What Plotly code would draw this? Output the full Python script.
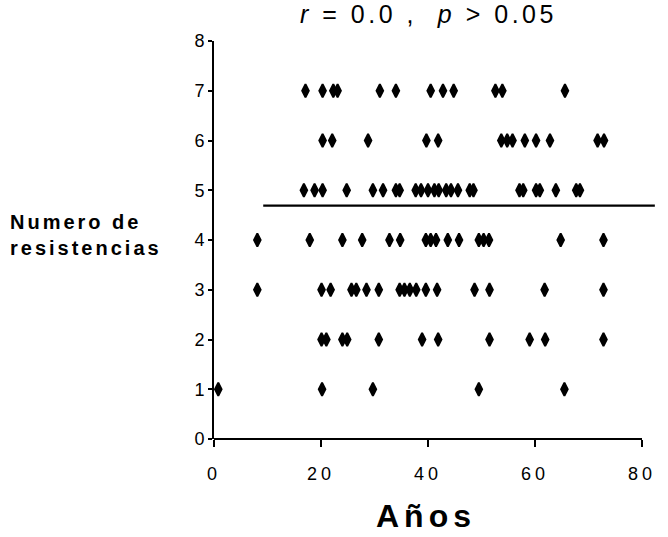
import plotly.graph_objects as go

# ---- data (ages in years, grouped by number of resistances) ----
res_levels = [7, 6, 5, 4, 3, 2, 1]
ages_7 = [17.1, 20.3, 22.3, 23.1, 31.0, 34.0, 40.5, 42.8, 44.8, 52.6, 53.9, 65.6]
ages_6 = [20.3, 22.1, 28.8, 39.7, 41.9, 53.7, 54.8, 55.8, 58.1, 60.2, 62.8, 71.7, 72.9]
ages_5 = [16.8, 18.8, 20.3, 24.8, 29.7, 31.6, 34.0, 34.7, 37.7, 38.7, 40.0, 41.2, 42.0,
          43.4, 44.3, 45.6, 47.8, 48.5, 57.1, 57.8, 60.2, 60.9, 63.9, 67.7, 68.4]
ages_4 = [8.1, 17.9, 24.0, 27.7, 32.8, 34.8, 39.6, 40.5, 41.5, 43.7, 45.8, 49.5, 50.4,
          51.4, 64.8, 72.8]
ages_3 = [8.1, 20.1, 21.8, 25.7, 26.6, 28.5, 30.8, 34.7, 35.6, 36.6, 37.8, 39.6, 41.7,
          48.7, 51.5, 61.8, 72.8]
ages_2 = [20.1, 21.0, 24.0, 24.9, 30.8, 38.9, 41.9, 51.5, 59.0, 61.9, 72.8]
ages_1 = [0.8, 20.2, 29.7, 49.5, 65.5]

# regression (flat) line
fit_x = [9.2, 82.4]
fit_y = [4.69, 4.69]

x_ticks = [0, 20, 40, 60, 80]
y_ticks = [0, 1, 2, 3, 4, 5, 6, 7, 8]

groups = [ages_7, ages_6, ages_5, ages_4, ages_3, ages_2, ages_1]
xs, ys = [], []
for lvl, ages in zip(res_levels, groups):
    xs += ages
    ys += [lvl] * len(ages)

# ---- layout geometry ----
W, H = 668, 537
ML, MR, MT, MB = 214, 12, 41, 98
PW, PH = W - ML - MR, H - MT - MB
X_MAX = 80 * PW / 428.0


def pxx(px):
    return (px - ML) / PW


def pxy(py):
    return (H - MB - py) / PH


FONT = "Liberation Sans, Arial, sans-serif"

fig = go.Figure()
fig.add_trace(go.Scatter(
    x=fit_x, y=fit_y, mode="lines",
    line=dict(color="black", width=2.3), hoverinfo="skip", showlegend=False))
fig.add_trace(go.Scatter(
    x=xs, y=ys, mode="markers",
    marker=dict(symbol="diamond-tall", size=9.5, color="black",
                line=dict(color="black", width=1.9)),
    cliponaxis=False, showlegend=False))

fig.update_layout(
    width=W, height=H,
    margin=dict(l=ML, r=MR, t=MT, b=MB),
    paper_bgcolor="white", plot_bgcolor="white",
    font=dict(family=FONT, color="black"),
    xaxis=dict(range=[0, X_MAX], tickvals=x_ticks,
               ticktext=['<span style="letter-spacing:4px">%d</span>' % v for v in x_ticks],
               showgrid=False, zeroline=False, showline=False,
               ticks="outside", ticklen=7, tickwidth=1.6, tickcolor="black",
               ticklabelstandoff=11,
               tickfont=dict(size=18, family=FONT, color="black")),
    yaxis=dict(range=[0, 8], tickvals=y_ticks,
               showgrid=False, zeroline=False, showline=True,
               linecolor="black", linewidth=1.8,
               ticks="outside", ticklen=4, tickwidth=1.6, tickcolor="black",
               ticklabelstandoff=0,
               tickfont=dict(size=18, family=FONT, color="black")),
    shapes=[dict(type="line", xref="x", yref="paper", x0=0, x1=80, y0=0, y1=0,
                 line=dict(color="black", width=1.8), layer="above")],
    annotations=[
        dict(text='<span style="letter-spacing:3.5px"><i>r</i> = 0.0 ,  <i>p</i> > 0.05</span>',
             xref="paper", yref="paper", x=pxx(428), y=pxy(14),
             xanchor="center", yanchor="middle", showarrow=False,
             font=dict(size=25, family=FONT, color="black")),
        dict(text='<span style="letter-spacing:3px"><b>Numero de<br>resistencias</b></span>',
             xref="paper", yref="paper", x=pxx(8), y=pxy(235),
             xanchor="left", yanchor="middle", align="left", showarrow=False,
             font=dict(size=20, family=FONT, color="black")),
        dict(text='<span style="letter-spacing:5px"><b>Años</b></span>',
             xref="paper", yref="paper", x=pxx(426), y=pxy(516),
             xanchor="center", yanchor="middle", showarrow=False,
             font=dict(size=32, family=FONT, color="black")),
    ],
)

fig.write_html("out.html", config={"displayModeBar": False},
               post_script="document.body.style.margin='0';document.body.style.overflow='hidden';")
